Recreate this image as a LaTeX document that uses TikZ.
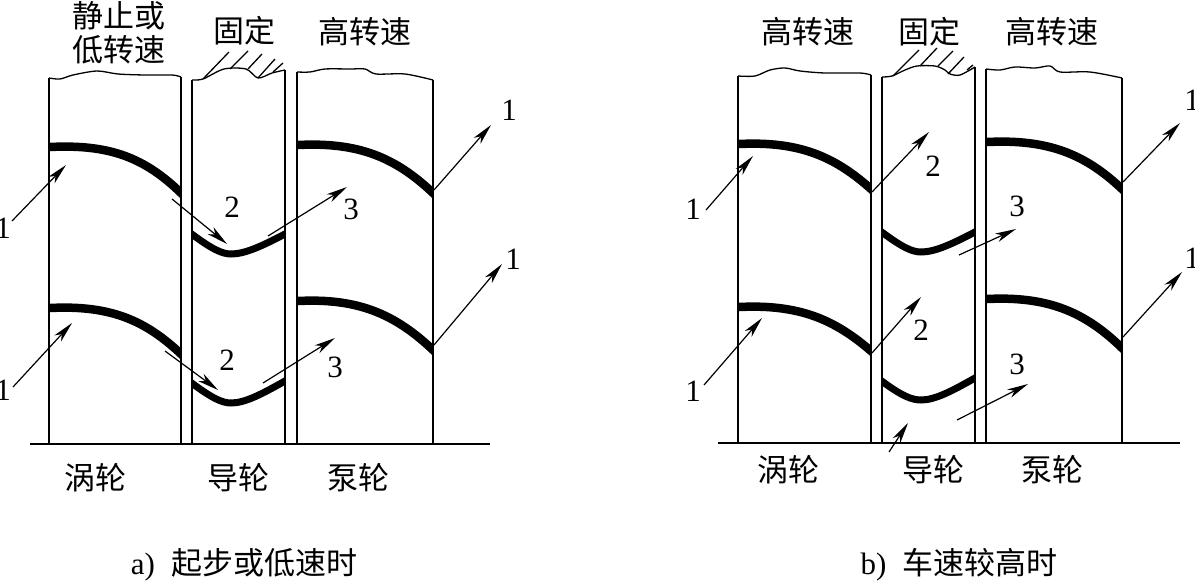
\documentclass[tikz,border=0pt]{standalone}
\usepackage{fontspec}
\setmainfont{Liberation Serif}
\newfontfamily\cjk{Noto Sans CJK SC}
\usetikzlibrary{arrows.meta}
\tikzset{
  wall/.style={line width=2.7pt,line cap=butt},
  base/.style={line width=2.5pt},
  wave/.style={line width=1.3pt,smooth,tension=0.5},
  blade/.style={line width=8.5pt,line cap=rect},
  gblade/.style={line width=7pt,line cap=rect},
  hatchline/.style={line width=1.3pt},
  flow/.style={line width=1.2pt,-{Stealth[length=21pt,width=9pt,inset=6pt]}},
  cn/.style={inner sep=0pt,font=\cjk\fontsize{31}{31}\selectfont},
  num/.style={inner sep=0pt,font=\fontsize{31}{31}\selectfont},
  captext/.style={inner sep=0pt,font=\fontsize{31}{31}\selectfont},
}
\newcommand\vaneclip[3]{\begin{scope}\clip (#1,0) rectangle (#2,581); #3 \end{scope}}
\begin{document}
\begin{tikzpicture}[x=1pt,y=-1pt]
\useasboundingbox (0,0) rectangle (1195,581);
% ---------- panel a ----------
\vaneclip{49}{181}{\draw[blade] (50,147) .. controls (110,144) and (145,158) .. (181,193);}
\vaneclip{49}{181}{\draw[blade] (50,308) .. controls (110,305) and (145,320) .. (181,354);}
\vaneclip{192}{285}{\draw[gblade] (193,235) .. controls (212,249) and (222,254) .. (231,254) .. controls (245,254) and (262,246) .. (285,234);}
\vaneclip{192}{285}{\draw[gblade] (193,384) .. controls (212,398) and (222,403) .. (231,403) .. controls (245,403) and (262,394) .. (285,381);}
\vaneclip{297}{433}{\draw[blade] (298,145) .. controls (358,142) and (395,157) .. (433,193);}
\vaneclip{297}{433}{\draw[blade] (298,301) .. controls (358,298) and (395,314) .. (433,350);}
\draw[base] (30,444) -- (490,444);
\draw[wall] (49,78) -- (49,444);
\draw[wall] (181,77) -- (181,444);
\draw[wall] (192,80) -- (192,444);
\draw[wall] (285,70) -- (285,444);
\draw[wall] (297,72) -- (297,444);
\draw[wall] (433,80) -- (433,444);
\draw[wave] plot coordinates {(49,78) (60,79) (73,75) (97,71) (118,74) (145,75) (172,75) (181,77)};
\draw[wave] plot coordinates {(192,80) (203,79) (224,69) (246,69) (258,78) (272,73) (285,70)};
\draw[wave] plot coordinates {(297,72) (310,72) (325,69) (350,69) (365,69) (376,74) (405,74) (433,80)};
\draw[hatchline] (203,79) -- (229,52);
\draw[hatchline] (230,69) -- (248,51);
\draw[hatchline] (248,69) -- (262,54);
\draw[hatchline] (258,78) -- (275,59);
\draw[hatchline] (273,72) -- (283,63);
\coordinate (a1s) at (12,221);
\coordinate (a1e) at (66,165);
\coordinate (a2s) at (172,199);
\coordinate (a2e) at (227,244);
\coordinate (a3s) at (268,236);
\coordinate (a3e) at (347,187);
\coordinate (a4s) at (434,190);
\coordinate (a4e) at (491,125);
\coordinate (a5s) at (13,387);
\coordinate (a5e) at (72,323);
\coordinate (a6s) at (165,351);
\coordinate (a6e) at (218,390);
\coordinate (a7s) at (263,383);
\coordinate (a7e) at (335,338);
\coordinate (a8s) at (434,345);
\coordinate (a8e) at (502,264);
\foreach \p/\q in {a1s/a1e,a2s/a2e,a3s/a3e,a4s/a4e,a5s/a5e,a6s/a6e,a7s/a7e,a8s/a8e}
  \draw[flow] (\p) -- (\q);
\node[num] (na1) at (3,228) {1};
\node[num] (na2) at (232,207) {2};
\node[num] (na3) at (351,209) {3};
\node[num] (na4) at (509,110) {1};
\node[num] (na5) at (3,390) {1};
\node[num] (na6) at (227,360) {2};
\node[num] (na7) at (335,367) {3};
\node[num] (na8) at (513,259) {1};
\node[cn] (ta1) at (119,16) {静止或};
\node[cn] (ta2) at (119,50) {低转速};
\node[cn] (ta3) at (244,31) {固定};
\node[cn] (ta4) at (365,32) {高转速};
\node[cn] (la1) at (95,478) {涡轮};
\node[cn] (la2) at (238,478) {导轮};
\node[cn] (la3) at (358,478) {泵轮};
\node[captext] (ca) at (244,565) {a)\hspace{16pt}{\cjk 起步或低速时}};
% ---------- panel b ----------
\vaneclip{738}{871}{\draw[blade] (739,144) .. controls (800,141) and (835,157) .. (871,189);}
\vaneclip{738}{871}{\draw[blade] (739,307) .. controls (800,304) and (835,320) .. (871,351);}
\vaneclip{882}{975}{\draw[gblade] (883,233) .. controls (902,247) and (912,252) .. (921,252) .. controls (935,252) and (952,244) .. (975,232);}
\vaneclip{882}{975}{\draw[gblade] (883,382) .. controls (902,396) and (912,400) .. (921,400) .. controls (935,400) and (952,391) .. (975,378);}
\vaneclip{986}{1122}{\draw[blade] (987,142) .. controls (1048,139) and (1085,154) .. (1122,189);}
\vaneclip{986}{1122}{\draw[blade] (987,299) .. controls (1048,296) and (1085,312) .. (1122,348);}
\draw[base] (718,443) -- (1180,443);
\draw[wall] (738,76) -- (738,443);
\draw[wall] (871,75) -- (871,443);
\draw[wall] (882,77) -- (882,443);
\draw[wall] (975,67) -- (975,443);
\draw[wall] (986,69) -- (986,443);
\draw[wall] (1122,78) -- (1122,443);
\draw[wave] plot coordinates {(738,76) (755,76) (770,70) (785,68) (800,71) (825,73) (860,73) (871,75)};
\draw[wave] plot coordinates {(882,77) (892,76) (905,70) (917,66) (935,66) (945,70) (950,74) (960,75) (975,67)};
\draw[wave] plot coordinates {(986,69) (1000,70) (1015,67) (1035,68) (1050,66) (1060,72) (1090,72) (1122,78)};
\draw[hatchline] (893,76) -- (919,50);
\draw[hatchline] (920,66) -- (937,48);
\draw[hatchline] (938,66) -- (953,51);
\draw[hatchline] (948,74) -- (964,57);
\draw[hatchline] (967,70) -- (973,65);
\coordinate (b1s) at (706,210);
\coordinate (b1e) at (753,156);
\coordinate (b2s) at (872,192);
\coordinate (b2e) at (929,132);
\coordinate (b3s) at (959,255);
\coordinate (b3e) at (1016,229);
\coordinate (b4s) at (1123,182);
\coordinate (b4e) at (1180,123);
\coordinate (b5s) at (704,385);
\coordinate (b5e) at (762,318);
\coordinate (b6s) at (872,353);
\coordinate (b6e) at (921,297);
\coordinate (b7s) at (957,420);
\coordinate (b7e) at (1028,384);
\coordinate (b8s) at (1123,337);
\coordinate (b8e) at (1182,272);
\coordinate (b9s) at (889,452);
\coordinate (b9e) at (908,423);
\foreach \p/\q in {b1s/b1e,b2s/b2e,b3s/b3e,b4s/b4e,b5s/b5e,b6s/b6e,b7s/b7e,b8s/b8e,b9s/b9e}
  \draw[flow] (\p) -- (\q);
\node[num] (nb1) at (693,209) {1};
\node[num] (nb2) at (933,166) {2};
\node[num] (nb3) at (1017,206) {3};
\node[num] (nb4) at (1192,100) {1};
\node[num] (nb5) at (693,391) {1};
\node[num] (nb6) at (921,330) {2};
\node[num] (nb7) at (1017,364) {3};
\node[num] (nb8) at (1192,258) {1};
\node[cn] (tb1) at (808,32) {高转速};
\node[cn] (tb2) at (929,32) {固定};
\node[cn] (tb3) at (1052,32) {高转速};
\node[cn] (lb1) at (788,470) {涡轮};
\node[cn] (lb2) at (933,470) {导轮};
\node[cn] (lb3) at (1052,470) {泵轮};
\node[captext] (cb) at (959,565) {b)\hspace{16pt}{\cjk 车速较高时}};
\end{tikzpicture}
\end{document}
